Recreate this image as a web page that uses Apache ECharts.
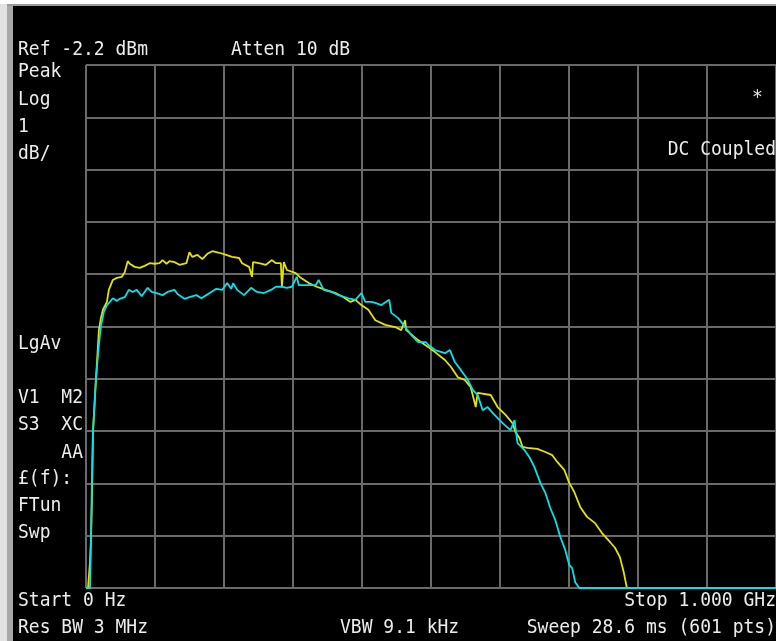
<!DOCTYPE html>
<html><head><meta charset="utf-8">
<script src="https://cdn.jsdelivr.net/npm/echarts@6/dist/echarts.min.js"></script>
<style>html,body{margin:0;padding:0;background:#000;}#c{width:776px;height:641px;}</style>
</head><body><div id="c"></div>
<script>
// Spectrum analyser settings
const refLevel = -2.2;      // dBm (top of screen)
const dbPerDiv = 1;
const divisions = 10;
const startMHz = 0;
const stopMHz = 1000;

// Yellow trace
const yellowFreq = [2.9,5.8,7.2,8.6,10.1,14.4,18.7,21.6,24.5,30.3,
33.1,38.9,44.7,51.9,56.2,60.5,63.4,70.6,77.8,85.0,
92.2,99.4,106.6,111.0,116.7,121.0,128.2,135.5,145.5,149.9,
154.2,161.4,168.6,175.8,183.0,193.1,203.2,211.8,221.9,226.2,
236.3,240.6,242.1,250.7,260.8,269.5,275.2,282.4,283.9,286.7,
291.1,304.0,311.2,322.8,334.3,347.3,361.7,373.2,383.3,390.5,
399.1,409.2,419.3,433.7,448.1,456.8,462.5,464.0,481.3,495.7,
505.8,520.2,528.8,538.9,549.0,557.6,564.8,567.7,586.5,596.5,
608.1,618.2,622.5,628.2,632.6,639.8,654.2,665.7,675.8,683.0,
693.1,700.3,707.5,716.2,726.2,737.8,747.8,759.4,766.6,773.8,
779.5,783.9,1000];
const yellowLevel = [-12.2,-11.7,-11.28,-10.52,-9.22,-8.22,-7.27,-7.04,-6.88,-6.73,
-6.5,-6.31,-6.27,-6.25,-6.16,-5.95,-6.0,-6.06,-6.08,-6.04,
-5.99,-6.0,-5.99,-5.93,-6.0,-5.95,-5.97,-6.02,-5.99,-5.78,
-5.87,-5.83,-5.91,-5.81,-5.76,-5.79,-5.83,-5.87,-5.89,-5.99,
-6.06,-6.25,-5.97,-5.99,-6.02,-5.93,-5.99,-5.99,-6.44,-5.97,
-6.12,-6.18,-6.27,-6.37,-6.44,-6.5,-6.56,-6.64,-6.73,-6.69,
-6.79,-6.88,-7.08,-7.17,-7.21,-7.27,-7.08,-7.27,-7.46,-7.59,
-7.69,-7.84,-7.97,-8.17,-8.22,-8.36,-8.74,-8.47,-8.51,-8.74,
-8.89,-9.05,-9.22,-9.33,-9.5,-9.52,-9.54,-9.6,-9.66,-9.79,
-9.94,-10.19,-10.36,-10.65,-10.84,-10.96,-11.15,-11.32,-11.43,-11.61,
-11.91,-12.2,-12.2];

// Cyan trace
const cyanFreq = [0,5.8,7.2,8.6,10.1,14.4,18.7,21.6,25.9,30.3,
34.6,38.9,44.7,49.0,56.2,62.0,67.7,73.5,80.7,85.0,
89.3,95.1,102.3,111.0,118.2,128.2,132.6,142.7,149.9,159.9,
167.2,174.4,181.6,188.8,197.4,204.6,210.4,213.3,219.0,229.1,
239.2,247.8,257.9,268.0,275.2,283.9,291.1,298.3,305.5,308.4,
322.8,332.9,337.2,344.4,355.9,366.0,380.4,390.5,399.1,404.9,
413.6,419.3,428.0,439.5,442.4,452.5,462.5,471.2,481.3,492.8,
495.7,505.8,520.2,527.4,534.6,543.2,553.3,560.5,567.7,574.9,
582.1,589.3,599.4,606.6,615.3,621.0,625.4,635.4,642.7,649.9,
658.5,665.7,672.9,680.1,687.3,694.5,700.3,704.6,709.0,714.8,
1000];
const cyanLevel = [-12.2,-12.2,-11.28,-10.13,-9.22,-8.2,-7.55,-7.19,-6.92,-6.79,
-6.73,-6.66,-6.71,-6.67,-6.64,-6.5,-6.54,-6.5,-6.62,-6.54,
-6.46,-6.54,-6.56,-6.6,-6.54,-6.5,-6.58,-6.67,-6.64,-6.6,
-6.66,-6.6,-6.54,-6.48,-6.5,-6.37,-6.48,-6.37,-6.5,-6.6,
-6.46,-6.54,-6.56,-6.5,-6.44,-6.44,-6.46,-6.44,-6.25,-6.41,
-6.41,-6.41,-6.31,-6.5,-6.54,-6.6,-6.66,-6.69,-6.56,-6.73,
-6.73,-6.75,-6.79,-6.69,-6.94,-7.04,-7.21,-7.36,-7.5,-7.5,
-7.55,-7.65,-7.71,-7.65,-7.88,-8.03,-8.22,-8.41,-8.51,-8.8,
-8.74,-8.85,-8.99,-9.08,-9.18,-8.99,-9.43,-9.56,-9.7,-9.89,
-10.19,-10.38,-10.67,-10.9,-11.22,-11.47,-11.76,-11.82,-12.09,-12.2,
-12.2];

// Annotation texts
const headerLeft = 'Ref -2.2 dBm';
const headerMid = 'Atten 10 dB';
const sideTop = ['Peak', 'Log', '1', 'dB/'];
const sideBottom = ['LgAv', '', 'V1  M2', 'S3  XC', '', '£(f):', 'FTun', 'Swp'];
const footer = ['Start 0 Hz', 'Stop 1.000 GHz', 'Res BW 3 MHz', 'VBW 9.1 kHz', 'Sweep 28.6 ms (601 pts)'];

const zip = (a, b) => a.map((v, i) => [v, b[i]]);
const FONT = '18px "DejaVu Sans Mono", "Liberation Mono", monospace';
const TXT = '#ececec';
const GRID = '#6a6a6a';

function txt(text, x, y, align) {
  return { type: 'text', z: 10, scaleY: 1.12, originX: x, originY: y,
    style: { text: text, x: x, y: y, font: FONT, fill: TXT,
    align: align || 'left', textAlign: align || 'left', verticalAlign: 'middle', textVerticalAlign: 'middle' } };
}

const graphics = [
  { type: 'rect', z: 9, shape: { x: 0, y: 0, width: 7, height: 641 }, style: { fill: '#e2e2e2' } },
  { type: 'rect', z: 9, shape: { x: 7, y: 0, width: 6, height: 641 }, style: { fill: '#a9a9a9' } },
  { type: 'rect', z: 9, shape: { x: 0, y: 0, width: 776, height: 4 }, style: { fill: '#ffffff' } },
  { type: 'rect', z: 9, shape: { x: 7, y: 4, width: 769, height: 2 }, style: { fill: '#9a9a9a' } },
  txt(headerLeft, 18, 50),
  txt(headerMid, 231, 50),
  txt('*', 752, 98),
  txt('DC Coupled', 776, 150, 'right'),
  txt('AA', 83, 453, 'right'),
  txt(footer[0], 18, 601),
  txt(footer[1], 776, 601, 'right'),
  txt(footer[2], 18, 628),
  txt(footer[3], 340, 628),
  txt(footer[4], 776, 628, 'right')
];
sideTop.forEach((t, i) => graphics.push(txt(t, 18, 72 + i * 27.3)));
sideBottom.forEach((t, i) => { if (t) graphics.push(txt(t, 18, 344 + i * 27)); });

const chart = echarts.init(document.getElementById('c'), null, { renderer: 'canvas' });
chart.setOption({
  backgroundColor: '#000000',
  animation: false,
  grid: { left: 86, top: 65, right: -4, bottom: 53, containLabel: false },
  xAxis: {
    type: 'value', min: startMHz, max: stopMHz, interval: (stopMHz - startMHz) / 10,
    axisLabel: { show: false }, axisTick: { show: false }, axisLine: { show: false },
    splitLine: { show: true, lineStyle: { color: GRID, width: 2 } }
  },
  yAxis: [
    { type: 'value', min: refLevel - dbPerDiv * divisions, max: refLevel, show: false },
    { type: 'value', min: 0, max: divisions, interval: 1, position: 'left',
      axisLabel: { show: false }, axisTick: { show: false }, axisLine: { show: false },
      splitLine: { show: true, lineStyle: { color: GRID, width: 2 } } }
  ],
  series: [
    { type: 'line', yAxisIndex: 0, data: zip(yellowFreq, yellowLevel), showSymbol: false, symbol: 'none',
      clip: false, lineStyle: { color: '#e4e400', width: 1.8 }, z: 3 },
    { type: 'line', yAxisIndex: 0, data: zip(cyanFreq, cyanLevel), showSymbol: false, symbol: 'none',
      clip: false, lineStyle: { color: '#00e4ec', width: 1.8 }, z: 4 }
  ],
  graphic: graphics
});
</script></body></html>
